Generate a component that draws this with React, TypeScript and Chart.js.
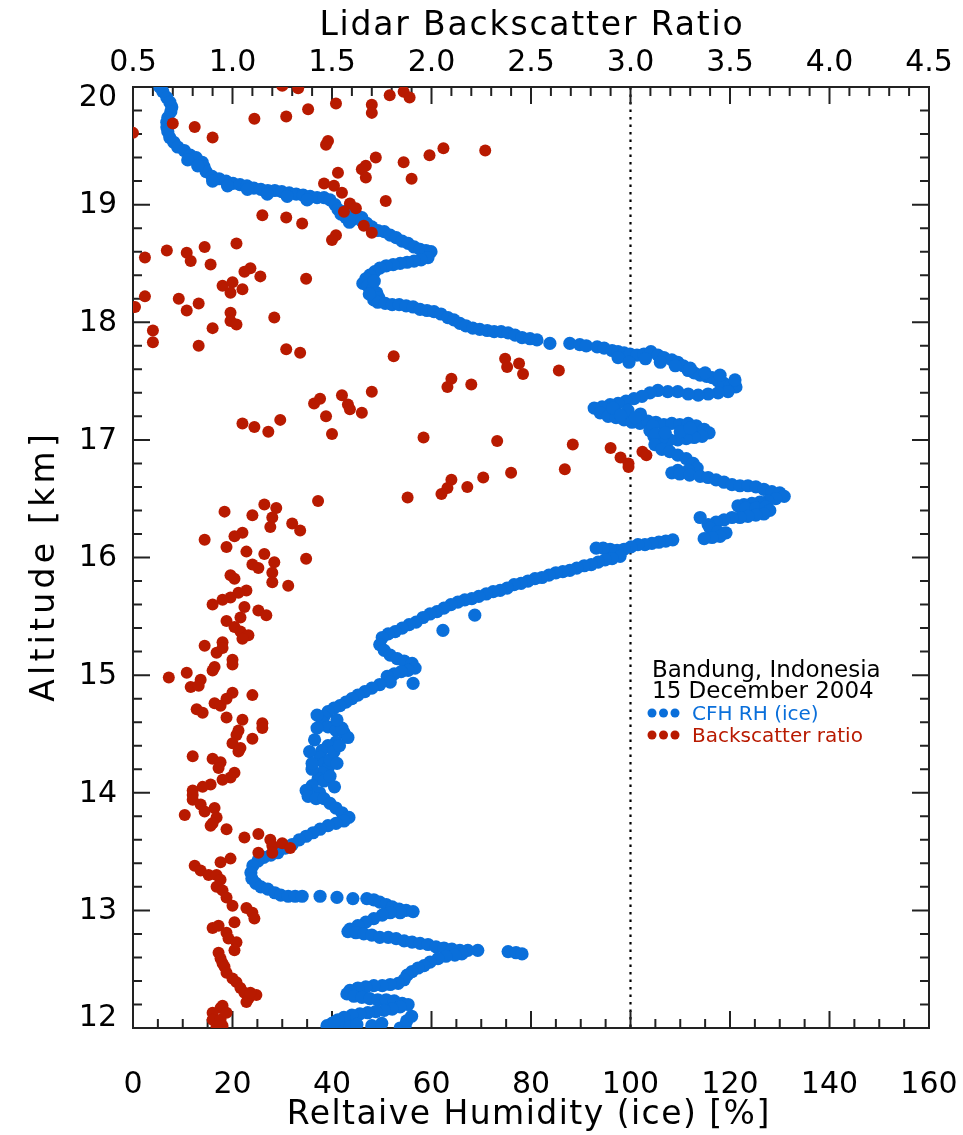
import { useEffect, useRef } from 'react';
import { Chart, registerables } from 'chart.js';

Chart.register(...registerables);

// ---------- data ----------
// CFH relative humidity over ice: [RH %, altitude km]
const cfhUpper: [number, number][] = [
  [5.4, 20.0], [6.0, 19.96], [6.8, 19.91], [7.4, 19.87], [7.8, 19.83], [7.6, 19.79], [7.0, 19.74], [6.8, 19.70],
  [6.8, 19.66], [7.0, 19.62], [7.4, 19.57], [8.2, 19.53], [9.0, 19.49], [10.3, 19.46], [11.5, 19.42], [12.7, 19.40],
  [13.9, 19.36], [14.3, 19.32], [14.7, 19.28], [15.9, 19.24], [17.3, 19.22], [18.7, 19.20], [20.1, 19.18], [21.5, 19.17],
  [22.9, 19.16], [24.3, 19.14], [25.7, 19.13], [27.1, 19.12], [28.5, 19.12], [29.9, 19.11], [31.4, 19.10], [32.8, 19.09],
  [34.2, 19.08], [35.6, 19.07], [37.0, 19.06], [38.4, 19.06], [39.6, 19.04], [40.6, 19.00], [41.2, 18.96], [41.8, 18.92],
  [42.8, 18.89], [44.0, 18.87], [45.2, 18.90], [46.0, 18.89], [47.0, 18.84], [48.0, 18.81], [49.2, 18.78], [50.5, 18.77],
  [51.7, 18.74], [52.9, 18.72], [54.1, 18.69], [55.3, 18.67], [56.5, 18.64], [57.7, 18.62], [58.9, 18.61], [59.9, 18.60],
  [59.3, 18.55], [57.9, 18.53], [56.5, 18.52], [55.1, 18.51], [53.7, 18.50], [52.3, 18.49], [50.9, 18.48], [49.6, 18.46],
  [48.6, 18.43], [47.6, 18.40], [46.8, 18.37], [46.2, 18.33], [47.2, 18.31], [48.2, 18.28], [49.0, 18.25], [49.4, 18.21],
  [48.4, 18.19], [49.2, 18.17], [50.7, 18.16], [52.1, 18.15], [53.5, 18.15], [54.9, 18.14], [56.3, 18.13], [57.7, 18.11],
  [59.1, 18.10], [60.5, 18.09], [61.9, 18.07], [63.3, 18.04], [64.5, 18.02], [65.7, 17.99], [66.9, 17.97], [68.3, 17.95],
  [69.7, 17.94], [71.2, 17.93], [72.6, 17.92], [74.0, 17.92], [75.4, 17.91], [76.8, 17.89], [78.2, 17.87], [79.8, 17.86],
  [81.2, 17.85], [83.8, 17.82], [87.8, 17.82], [89.8, 17.81], [91.1, 17.80], [93.3, 17.79], [94.7, 17.78], [96.3, 17.76],
  [97.5, 17.75], [98.7, 17.74], [99.9, 17.73], [101.3, 17.72], [102.7, 17.73], [104.1, 17.75], [105.5, 17.72], [106.7, 17.70],
  [108.3, 17.68], [109.5, 17.66], [110.6, 17.63], [111.6, 17.59], [112.8, 17.57], [114.0, 17.55], [115.3, 17.54], [116.4, 17.53],
  [117.6, 17.50], [118.8, 17.48], [120.0, 17.46], [121.2, 17.45],
  [97.5, 17.70], [99.7, 17.66], [103.0, 17.69], [106.0, 17.66], [109.0, 17.63], [112.0, 17.61], [115.0, 17.57], [118.0, 17.55], [121.0, 17.51],
  [11.0, 19.38], [13.0, 19.33], [16.0, 19.20], [19.0, 19.16], [23.0, 19.13], [27.0, 19.09], [31.0, 19.07], [35.0, 19.04],
  [43.0, 18.95], [44.5, 18.92], [43.5, 18.85], [46.0, 18.86], [47.5, 18.24], [48.5, 18.35],
];

const cfhMiddle: [number, number][] = [
  [119.6, 17.41], [117.6, 17.40], [115.6, 17.39], [113.6, 17.38], [111.6, 17.39], [109.5, 17.41], [107.5, 17.41], [105.5, 17.42],
  [103.9, 17.40], [102.3, 17.37], [100.7, 17.35], [99.1, 17.33], [97.5, 17.31], [95.9, 17.30], [94.3, 17.28], [92.7, 17.27],
  [93.9, 17.23], [95.5, 17.20], [97.1, 17.19], [98.7, 17.17], [100.3, 17.15], [101.9, 17.14], [103.5, 17.16], [105.1, 17.15],
  [106.7, 17.13], [108.3, 17.14], [109.9, 17.13], [111.6, 17.14], [113.2, 17.12], [114.8, 17.09], [115.8, 17.06], [114.4, 17.03],
  [112.8, 17.02], [111.2, 17.01], [109.5, 17.00], [107.9, 17.00], [106.3, 17.01], [104.7, 17.03], [103.9, 17.08], [104.5, 17.12],
  [105.0, 17.05], [104.9, 16.96], [106.3, 16.92], [107.9, 16.90], [109.5, 16.87], [111.2, 16.84], [112.6, 16.80], [113.4, 16.76],
  [111.6, 16.74], [109.5, 16.74], [108.3, 16.72], [109.9, 16.71], [111.9, 16.70], [114.0, 16.69], [115.6, 16.68], [117.2, 16.66],
  [118.8, 16.64], [120.4, 16.62], [122.0, 16.61], [123.6, 16.61], [125.2, 16.60], [126.8, 16.58], [128.4, 16.56], [130.0, 16.55],
  [130.9, 16.52], [129.2, 16.50], [127.6, 16.48], [126.0, 16.47], [124.4, 16.46], [122.8, 16.45], [121.6, 16.44], [123.2, 16.42],
  [125.2, 16.42], [127.2, 16.43], [128.0, 16.40], [126.8, 16.37], [125.2, 16.36], [123.6, 16.35], [122.0, 16.34], [120.4, 16.34],
  [118.8, 16.32], [117.2, 16.30], [115.6, 16.28], [114.0, 16.34], [116.0, 16.25], [117.6, 16.22], [119.2, 16.21], [118.0, 16.18],
  [116.4, 16.17], [114.8, 16.16],
  [96.5, 17.27], [99.5, 17.25], [102.0, 17.22], [98.0, 17.21], [101.0, 17.19], [110.0, 17.07], [112.0, 17.10], [107.0, 17.06],
];

const cfhLower: [number, number][] = [
  [108.5, 16.15], [107.1, 16.14], [105.7, 16.13], [104.3, 16.12], [102.9, 16.11], [101.5, 16.11], [100.1, 16.09], [98.7, 16.07],
  [97.3, 16.06], [95.9, 16.07], [94.5, 16.08], [93.1, 16.08], [97.9, 16.01], [96.3, 15.99], [94.9, 15.98], [93.5, 15.96],
  [92.1, 15.94], [90.7, 15.93], [89.2, 15.91], [87.8, 15.89], [86.4, 15.88], [85.0, 15.87], [83.6, 15.85], [82.2, 15.83],
  [80.8, 15.82], [79.4, 15.80], [78.0, 15.78], [76.6, 15.77], [75.2, 15.74], [73.8, 15.72], [72.4, 15.71], [71.0, 15.69],
  [69.5, 15.67], [68.1, 15.65], [66.7, 15.64], [65.3, 15.62], [63.9, 15.60], [62.5, 15.57], [61.1, 15.54], [59.7, 15.52],
  [68.7, 15.51], [62.3, 15.38], [58.3, 15.49], [56.9, 15.45], [55.5, 15.43], [54.1, 15.40], [52.7, 15.37], [51.3, 15.35],
  [50.1, 15.32], [49.6, 15.26], [50.5, 15.21], [51.7, 15.17], [53.1, 15.14], [54.5, 15.12], [56.1, 15.10], [56.7, 15.06],
  [55.3, 15.04], [53.9, 15.03], [52.5, 15.01], [51.1, 14.99], [56.3, 14.93], [51.7, 14.94], [49.6, 14.92], [48.0, 14.89],
  [46.6, 14.86], [45.2, 14.83], [44.0, 14.80], [42.8, 14.77], [41.6, 14.74], [40.4, 14.72], [39.2, 14.69], [38.4, 14.65],
  [38.0, 14.60], [39.2, 14.56], [40.8, 14.53], [42.4, 14.51], [43.2, 14.47], [40.8, 14.43], [39.2, 14.40], [38.0, 14.36],
  [37.6, 14.30], [38.4, 14.25], [39.2, 14.21], [38.0, 14.17], [37.2, 14.12], [38.4, 14.10], [39.6, 14.14], [39.6, 14.28],
  [40.4, 14.35], [36.5, 14.45], [37.0, 14.55], [41.5, 14.40], [36.0, 14.20], [40.5, 14.05], [37.5, 14.00],
  [35.5, 14.35], [36.0, 14.25], [41.0, 14.25], [42.0, 14.55], [37.0, 14.66], [41.0, 14.62],
  [36.0, 14.06], [34.8, 14.02], [35.2, 13.97], [36.8, 13.95], [38.4, 13.95], [39.6, 13.91], [40.8, 13.87], [42.0, 13.83],
  [43.4, 13.79], [42.4, 13.76], [40.8, 13.74], [39.2, 13.72], [37.6, 13.69], [36.2, 13.66], [34.8, 13.63], [33.4, 13.60],
  [32.0, 13.56], [30.6, 13.53], [29.1, 13.49], [27.7, 13.47], [26.3, 13.45], [25.1, 13.42], [24.1, 13.38], [23.7, 13.32],
  [23.9, 13.27], [24.7, 13.23], [25.7, 13.20], [27.1, 13.18], [28.5, 13.15], [29.7, 13.13], [31.2, 13.12], [32.6, 13.12],
  [34.0, 13.12], [37.6, 13.12], [41.0, 13.11], [44.2, 13.10], [47.0, 13.10], [48.4, 13.09], [49.6, 13.07], [50.9, 13.05],
  [52.1, 13.03], [53.5, 13.01], [54.9, 13.00], [56.3, 12.99], [53.7, 12.98], [51.7, 12.98], [50.1, 12.96], [48.4, 12.93],
  [46.8, 12.90], [45.2, 12.87], [43.6, 12.84], [43.2, 12.82], [44.8, 12.81], [46.4, 12.80], [48.0, 12.79], [49.6, 12.77],
  [51.3, 12.77], [52.9, 12.76], [54.5, 12.74], [56.1, 12.73], [57.7, 12.72], [59.3, 12.71], [60.9, 12.69], [62.5, 12.68],
  [64.1, 12.67], [65.7, 12.66], [67.3, 12.66], [69.3, 12.66], [75.4, 12.65], [77.0, 12.64], [78.2, 12.63], [66.1, 12.63],
  [64.7, 12.62], [62.9, 12.61], [61.3, 12.59], [59.7, 12.56], [58.5, 12.53], [57.3, 12.51], [56.1, 12.48], [55.1, 12.45],
  [54.5, 12.41], [53.3, 12.38], [51.7, 12.37], [50.1, 12.36], [48.4, 12.36], [46.8, 12.35], [45.2, 12.34], [43.6, 12.32],
  [43.0, 12.29], [44.4, 12.27], [46.0, 12.26], [47.6, 12.25], [49.2, 12.24], [50.9, 12.24], [52.5, 12.23], [54.1, 12.21],
  [55.3, 12.20], [53.7, 12.18], [52.1, 12.16], [50.5, 12.15], [48.8, 12.14], [47.2, 12.13], [45.6, 12.12], [44.0, 12.11],
  [42.4, 12.09], [41.2, 12.07], [40.0, 12.04], [39.0, 12.02], [41.6, 12.01], [43.6, 12.01], [53.7, 12.00], [54.7, 12.02],
  [40.5, 12.05], [45.0, 12.03], [48.0, 12.02], [50.0, 12.04], [55.0, 12.06], [56.0, 12.10],
];

// Lidar backscatter ratio: [ratio, altitude km]
const backscatterUpper: [number, number][] = [
  [1.25, 20.01], [1.33, 19.99], [1.52, 19.86], [1.70, 19.85], [1.70, 19.78], [1.79, 19.93], [1.86, 19.96], [1.89, 19.91],
  [1.38, 19.81], [1.27, 19.75], [1.11, 19.73], [0.70, 19.69], [0.81, 19.66], [0.90, 19.57], [0.50, 19.61], [1.48, 19.54],
  [1.47, 19.51], [2.06, 19.48], [2.27, 19.46], [1.99, 19.42], [1.72, 19.40], [1.86, 19.36], [1.67, 19.33], [1.65, 19.30],
  [1.53, 19.27], [1.67, 19.23], [1.90, 19.22], [1.46, 19.18], [1.51, 19.16], [1.55, 19.10], [1.59, 19.01], [1.62, 18.97],
  [1.56, 18.94], [1.77, 19.03], [1.15, 18.91], [1.27, 18.89], [1.35, 18.84], [1.66, 18.82], [1.70, 18.76], [1.52, 18.74],
  [1.50, 18.70], [0.67, 18.61], [0.56, 18.55], [0.77, 18.59], [0.79, 18.52], [0.86, 18.64], [1.02, 18.67], [0.89, 18.49],
  [1.09, 18.46], [1.06, 18.43], [1.14, 18.39], [1.37, 18.37], [0.56, 18.22], [0.51, 18.13], [0.73, 18.20], [0.83, 18.16],
  [0.77, 18.10], [0.95, 18.31], [1.00, 18.34], [0.99, 18.25], [1.05, 18.28], [0.99, 18.08], [0.99, 18.01], [1.02, 17.98],
  [1.21, 18.04], [0.90, 17.95], [0.60, 17.93], [0.60, 17.83], [0.83, 17.80], [1.27, 17.77], [1.34, 17.74], [1.81, 17.71],
];

const backscatterMiddle: [number, number][] = [
  [2.37, 17.69], [2.38, 17.62], [2.44, 17.65], [2.46, 17.56], [2.64, 17.59], [2.10, 17.52], [2.08, 17.45], [2.20, 17.47],
  [2.33, 16.99], [2.71, 16.96], [2.90, 16.93], [2.95, 16.85], [2.99, 16.80], [2.99, 16.77], [3.06, 16.90], [3.08, 16.87],
  [2.67, 16.75], [2.40, 16.72], [2.26, 16.68], [2.18, 16.60], [2.10, 16.66], [2.08, 16.59], [2.05, 16.54], [1.88, 16.51],
  [1.05, 17.14], [1.11, 17.11], [1.18, 17.07], [1.24, 17.17], [1.41, 17.31], [1.44, 17.35], [1.55, 17.38], [1.58, 17.30],
  [1.59, 17.26], [1.47, 17.20], [1.50, 17.05], [1.65, 17.23], [1.70, 17.41], [1.96, 17.02],
  [0.96, 16.39], [1.16, 16.45], [1.22, 16.42], [1.10, 16.36], [1.43, 16.48], [1.20, 16.34], [1.19, 16.26], [1.30, 16.29],
  [1.34, 16.23], [1.05, 16.21], [1.01, 16.18], [0.97, 16.09], [0.86, 16.15], [1.07, 16.05], [1.16, 16.03], [1.21, 15.96],
  [1.37, 15.99], [1.10, 15.94], [1.13, 15.91], [1.20, 15.87], [1.20, 15.79], [1.28, 15.76], [0.99, 15.85], [1.01, 15.82],
  [1.07, 15.72], [1.03, 15.70], [0.99, 15.66], [0.95, 15.64], [0.90, 15.60], [1.06, 15.58], [1.13, 15.55], [1.17, 15.51],
  [0.97, 15.46], [1.04, 15.49], [1.01, 15.41], [1.04, 15.37], [1.08, 15.34], [1.05, 15.31], [0.86, 15.25], [0.95, 15.28],
  [0.92, 15.19], [0.95, 15.23], [1.00, 15.13], [1.00, 15.09], [0.90, 15.04], [0.91, 15.07], [0.68, 14.98], [0.77, 15.02],
  [0.84, 14.96],
];

const backscatterLower: [number, number][] = [
  [0.79, 14.90], [0.83, 14.91], [1.00, 14.85], [1.10, 14.83], [0.91, 14.76], [0.94, 14.74], [0.97, 14.80], [0.82, 14.71],
  [0.85, 14.68], [0.97, 14.64], [1.05, 14.62], [1.15, 14.59], [1.15, 14.55], [1.03, 14.53], [1.02, 14.49], [1.10, 14.46],
  [1.00, 14.42], [1.04, 14.38], [1.03, 14.35], [0.80, 14.31], [0.90, 14.29], [0.94, 14.26], [0.93, 14.21], [1.01, 14.17],
  [0.99, 14.13], [0.95, 14.11], [0.89, 14.07], [0.85, 14.05], [0.80, 14.02], [0.80, 13.98], [0.80, 13.94], [0.84, 13.90],
  [0.86, 13.84], [0.91, 13.87], [0.92, 13.79], [0.76, 13.81], [0.89, 13.72], [0.90, 13.74], [0.97, 13.69], [1.06, 13.62],
  [1.13, 13.65], [1.19, 13.60], [1.20, 13.55], [1.20, 13.49], [1.25, 13.57], [1.29, 13.53], [1.13, 13.49], [0.99, 13.44],
  [0.94, 13.41], [0.81, 13.38], [0.84, 13.34], [0.88, 13.30], [0.92, 13.30], [0.94, 13.26], [0.92, 13.20], [0.95, 13.17],
  [0.97, 13.11], [1.00, 13.04], [1.07, 13.02], [1.10, 12.98], [1.11, 12.93], [1.01, 12.90], [0.90, 12.85], [0.93, 12.87],
  [0.97, 12.81], [0.98, 12.76], [1.02, 12.73], [1.01, 12.66], [0.93, 12.64], [0.94, 12.59], [0.95, 12.55], [0.96, 12.52],
  [0.97, 12.47], [1.00, 12.42], [1.02, 12.39], [1.04, 12.34], [1.06, 12.30], [1.08, 12.25], [1.07, 12.22], [1.12, 12.28],
  [1.09, 12.30], [0.95, 12.19], [0.94, 12.17], [0.90, 12.13], [0.90, 12.07], [0.94, 12.07], [0.95, 12.02], [0.92, 12.01],
  [0.97, 12.13],
];

// axis tick labels
const rhTickLabels = [0, 20, 40, 60, 80, 100, 120, 140, 160];
const ratioTickLabels = ['0.5', '1.0', '1.5', '2.0', '2.5', '3.0', '3.5', '4.0', '4.5'];
const altTickLabels = [12, 13, 14, 15, 16, 17, 18, 19, 20];

const titleTop = 'Lidar Backscatter Ratio';
const titleBottom = 'Reltaive Humidity (ice) [%]';
const titleLeft = 'Altitude [km]';
const annotationLines = ['Bandung, Indonesia', '15 December 2004'];
const legendLabels = ['CFH RH (ice)', 'Backscatter ratio'];

// ---------- style ----------
const W = 963;
const H = 1135;
const BLUE = '#0A6FDA';
const RED = '#B81A00';
const AXIS = '#222222';
const FONT = "'DejaVu Sans', 'Liberation Sans', sans-serif";

function drawSpaced(ctx: CanvasRenderingContext2D, text: string, x: number, y: number, target: number) {
  const w = ctx.measureText(text).width;
  const extra = (target - w) / text.length;
  (ctx as any).letterSpacing = `${extra}px`;
  ctx.fillText(text, x + extra / 2, y);
  (ctx as any).letterSpacing = '0px';
}

const framePlugin = {
  id: 'idlFrame',
  beforeDatasetsDraw(chart: any) {
    const { ctx, chartArea: a, scales } = chart;
    const sx = scales.x;
    const sx2 = scales.x2;
    const sy = scales.y;
    ctx.save();
    // dotted 100% line
    ctx.strokeStyle = '#000';
    ctx.lineWidth = 2.2;
    ctx.setLineDash([2.5, 5]);
    const p100 = sx.getPixelForValue(100);
    ctx.beginPath();
    ctx.moveTo(p100, a.top);
    ctx.lineTo(p100, a.bottom);
    ctx.stroke();
    ctx.setLineDash([]);

    // inward ticks
    ctx.strokeStyle = AXIS;
    ctx.lineWidth = 2;
    ctx.beginPath();
    for (let i = 0; i <= 32; i++) {
      const p = sx.getPixelForValue(i * 5);
      const L = i % 4 === 0 ? 17 : 9;
      ctx.moveTo(p, a.bottom);
      ctx.lineTo(p, a.bottom - L);
    }
    for (let i = 0; i <= 40; i++) {
      const p = sx2.getPixelForValue(0.5 + i * 0.1);
      const L = i % 5 === 0 ? 17 : 9;
      ctx.moveTo(p, a.top);
      ctx.lineTo(p, a.top + L);
    }
    for (let i = 0; i <= 40; i++) {
      const p = sy.getPixelForValue(12 + i * 0.2);
      const L = i % 5 === 0 ? 17 : 9;
      ctx.moveTo(a.left, p);
      ctx.lineTo(a.left + L, p);
      ctx.moveTo(a.right, p);
      ctx.lineTo(a.right - L, p);
    }
    ctx.stroke();
    ctx.strokeRect(a.left, a.top, a.right - a.left, a.bottom - a.top);
    ctx.restore();
  },
  afterDraw(chart: any) {
    const { ctx, chartArea: a, scales } = chart;
    const sx = scales.x;
    const sx2 = scales.x2;
    const sy = scales.y;
    ctx.save();
    ctx.fillStyle = '#000';
    ctx.textBaseline = 'alphabetic';

    // tick labels
    ctx.font = `30px ${FONT}`;
    ctx.textAlign = 'center';
    rhTickLabels.forEach((v) => ctx.fillText(String(v), sx.getPixelForValue(v), 1093));
    ratioTickLabels.forEach((t) => ctx.fillText(t, sx2.getPixelForValue(parseFloat(t)), 71));
    ctx.textAlign = 'right';
    ctx.textBaseline = 'middle';
    altTickLabels.forEach((v, i) => {
      const shift = i === altTickLabels.length - 1 ? 11 : i === 0 ? -10 : 1;
      ctx.fillText(String(v), 117, sy.getPixelForValue(v) + shift);
    });

    // axis titles
    ctx.textBaseline = 'alphabetic';
    ctx.textAlign = 'center';
    ctx.font = `33px ${FONT}`;
    const cx = (a.left + a.right) / 2;
    drawSpaced(ctx, titleTop, cx, 35, 425);
    drawSpaced(ctx, titleBottom, cx - 3, 1124, 484);
    ctx.save();
    ctx.translate(54, 568);
    ctx.rotate(-Math.PI / 2);
    drawSpaced(ctx, titleLeft, 0, 0, 272);
    ctx.restore();

    // annotation + legend
    ctx.textAlign = 'left';
    ctx.font = `23px ${FONT}`;
    ctx.fillStyle = '#000';
    ctx.fillText(annotationLines[0], 652, 677);
    ctx.fillText(annotationLines[1], 652, 698);
    const rows = [
      { color: BLUE, label: legendLabels[0], dotY: 713, textY: 720 },
      { color: RED, label: legendLabels[1], dotY: 735, textY: 742 },
    ];
    ctx.font = `20px ${FONT}`;
    rows.forEach((r) => {
      ctx.fillStyle = r.color;
      [652, 663.5, 675].forEach((dx) => {
        ctx.beginPath();
        ctx.arc(dx, r.dotY, 4.5, 0, Math.PI * 2);
        ctx.fill();
      });
      ctx.fillText(r.label, 692, r.textY);
    });
    ctx.restore();
  },
};

export default function App() {
  const ref = useRef<HTMLCanvasElement>(null);
  useEffect(() => {
    document.body.style.margin = '0';
    const canvas = ref.current;
    if (!canvas) return;
    const toPts = (arr: [number, number][]) => arr.map(([x, y]) => ({ x, y }));
    const chart = new Chart(canvas, {
      type: 'scatter',
      data: {
        datasets: [
          {
            label: legendLabels[1],
            data: [...toPts(backscatterUpper), ...toPts(backscatterMiddle), ...toPts(backscatterLower)],
            xAxisID: 'x2',
            yAxisID: 'y',
            backgroundColor: RED,
            borderColor: RED,
            borderWidth: 0,
            pointRadius: 6,
            pointHoverRadius: 6,
            order: 0,
            clip: 0,
          },
          {
            label: legendLabels[0],
            data: [...toPts(cfhUpper), ...toPts(cfhMiddle), ...toPts(cfhLower)],
            xAxisID: 'x',
            yAxisID: 'y',
            backgroundColor: BLUE,
            borderColor: BLUE,
            borderWidth: 0,
            pointRadius: 6.6,
            pointHoverRadius: 6.6,
            order: 1,
            clip: 0,
          },
        ],
      },
      options: {
        responsive: false,
        animation: false,
        devicePixelRatio: 1,
        events: [],
        layout: { padding: { left: 133, top: 87, right: W - 929, bottom: H - 1028 } },
        plugins: { legend: { display: false }, tooltip: { enabled: false } },
        scales: {
          x: { type: 'linear', display: false, min: 0, max: 160 },
          x2: { type: 'linear', display: false, min: 0.5, max: 4.5, position: 'top' },
          y: { type: 'linear', display: false, min: 12, max: 20 },
        },
      } as any,
      plugins: [framePlugin],
    });
    return () => chart.destroy();
  }, []);
  return <canvas ref={ref} width={W} height={H} style={{ display: 'block' }} />;
}
